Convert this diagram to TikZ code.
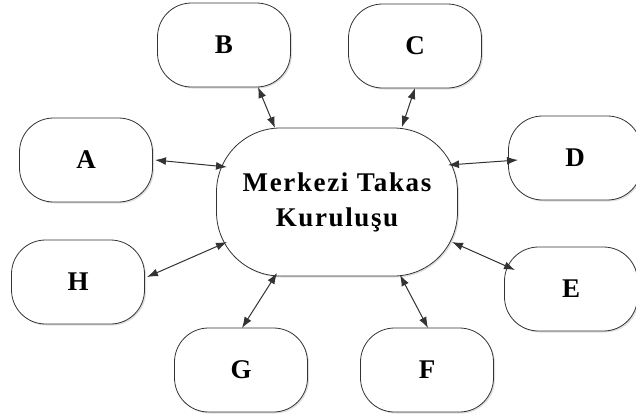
\documentclass[tikz,border=0pt]{standalone}
\usepackage{fontspec}
\setmainfont{Liberation Serif}
\usetikzlibrary{shadows,arrows.meta}
\tikzset{
  box/.style={draw=black!80, line width=0.8pt, fill=white, rounded corners=34pt,
    minimum width=133pt, minimum height=84pt, inner sep=0pt,
    font=\fontsize{27}{30}\selectfont\bfseries,
    drop shadow={opacity=0.25, shadow xshift=1.5pt, shadow yshift=-1.5pt}},
  hub/.style={draw=black!80, line width=0.8pt, fill=white, rounded corners=64pt,
    minimum width=241pt, minimum height=148pt, inner sep=0pt, align=center,
    font=\fontsize{27}{35}\selectfont\bfseries\addfontfeature{LetterSpace=6},
    drop shadow={opacity=0.25, shadow xshift=1.5pt, shadow yshift=-1.5pt}},
  link/.style={{Latex[length=11pt,width=8pt]}-{Latex[length=11pt,width=8pt]}, draw=black!80, line width=1pt}
}
\begin{document}
\begin{tikzpicture}[x=1pt,y=-1pt]
\useasboundingbox (0,0) rectangle (636,418);
\node[hub] (M) at (337,202) {Merkezi Takas\\Kuruluşu};
\node[box] (A) at (86,160) {A};
\node[box] (B) at (224,45) {B};
\node[box] (C) at (415,46) {C};
\node[box] (D) at (575,158) {D};
\node[box] (E) at (571,289) {E};
\node[box] (F) at (427,370) {F};
\node[box] (G) at (241,370) {G};
\node[box] (H) at (78,282) {H};
\draw[link] ([shift={(69,0)}]A.center) -- ([shift={(-110,-35)}]M.center);
\draw[link] ([shift={(34,42)}]B.center) -- ([shift={(-62,-74)}]M.center);
\draw[link] ([shift={(0,42)}]C.center) -- ([shift={(65,-75)}]M.center);
\draw[link] ([shift={(-57,2)}]D.center) -- ([shift={(111,-37)}]M.center);
\draw[link] ([shift={(-56,-19)}]E.center) -- ([shift={(115,40)}]M.center);
\draw[link] ([shift={(1,-42)}]F.center) -- ([shift={(63,73)}]M.center);
\draw[link] ([shift={(1,-42)}]G.center) -- ([shift={(-60,71)}]M.center);
\draw[link] ([shift={(69,-5)}]H.center) -- ([shift={(-110,40)}]M.center);
\end{tikzpicture}
\end{document}
